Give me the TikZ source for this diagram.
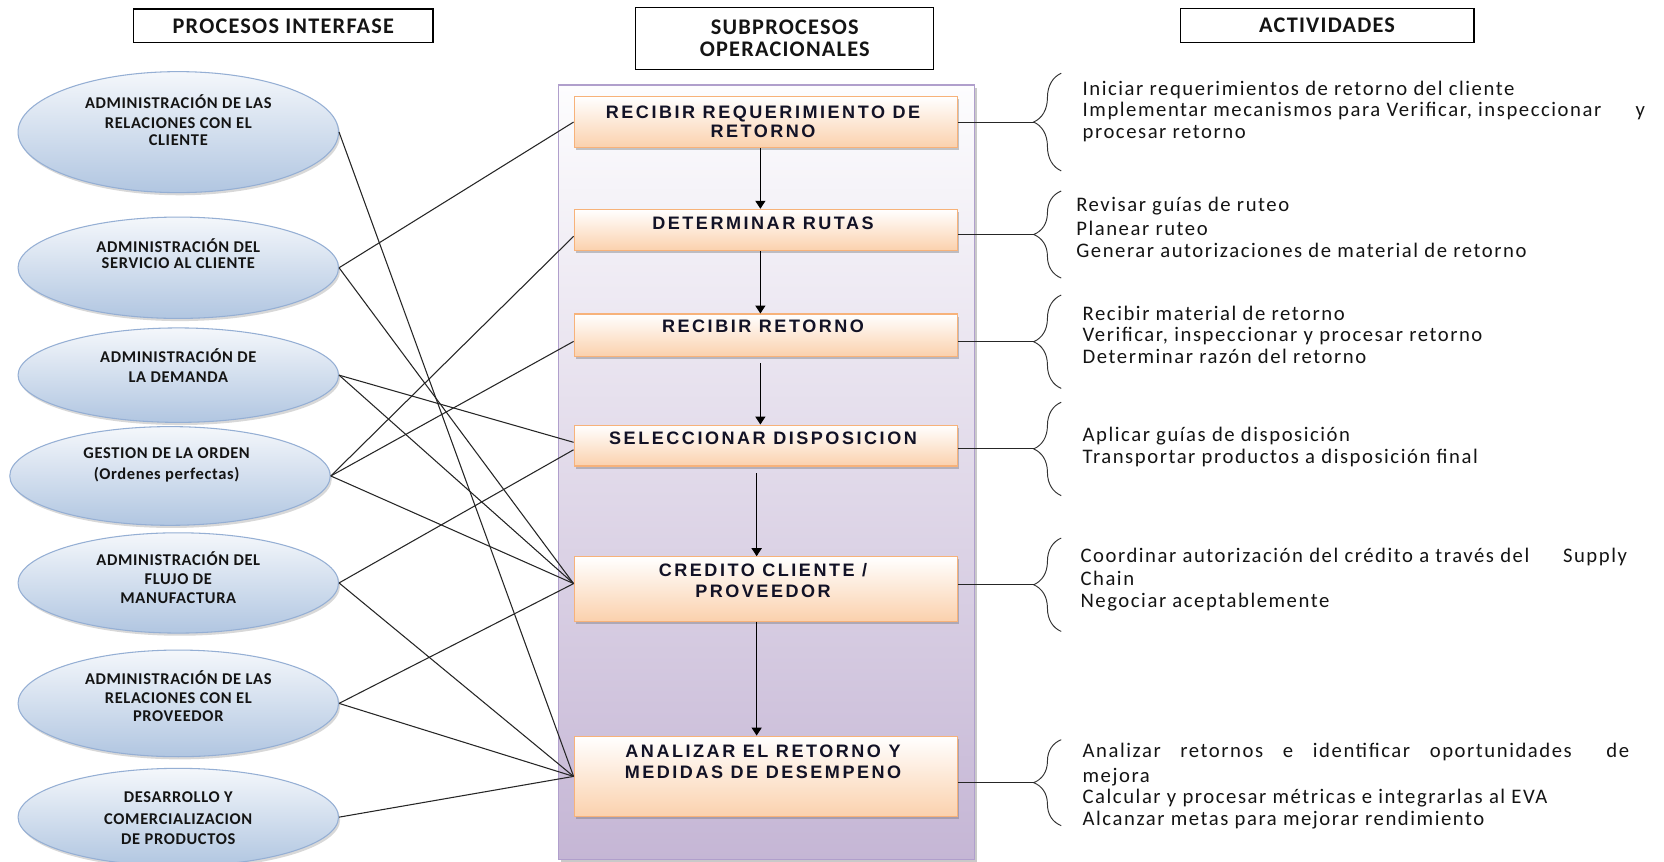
\documentclass[tikz,border=0pt]{standalone}
\usepackage{fontspec}
\setmainfont{Carlito}
\newfontfamily\hdrfont{Carlito}[LetterSpace=5.5]
\newfontfamily\ovfont{Carlito}[LetterSpace=4]
\newfontfamily\actfont{Carlito}[LetterSpace=7.5]
\newfontfamily\boxfont{Liberation Sans}[LetterSpace=14]
\usetikzlibrary{shapes.geometric,arrows.meta,decorations.pathreplacing,shadows}

\definecolor{ovtop}{HTML}{F4F7FB}
\definecolor{ovbot}{HTML}{B1C6E1}
\definecolor{ovline}{HTML}{95AFD4}
\definecolor{bxbot}{HTML}{FBD1AD}
\definecolor{bxline}{HTML}{F7B27A}
\definecolor{cttop}{HTML}{FDFDFE}
\definecolor{ctbot}{HTML}{C5B6D5}
\definecolor{ctline}{HTML}{B09FCC}
\definecolor{txtdark}{HTML}{141414}
\definecolor{boxtxt}{HTML}{121226}

\begin{document}
\begin{tikzpicture}[x=1pt,y=-1pt,
  hdr/.style={draw=black, line width=1.1pt, fill=white, inner sep=0pt,
    font=\hdrfont\fontsize{21}{21.4}\selectfont\bfseries, text=txtdark},
  cont/.style={rectangle, inner sep=0pt, draw=ctline, line width=1.2pt,
    top color=cttop, bottom color=ctbot,
    drop shadow={shadow xshift=2.5pt, shadow yshift=-2.5pt, opacity=0.35, fill=black!60}},
  proc/.style={ellipse, inner sep=0pt, draw=ovline, line width=1pt,
    top color=ovtop, bottom color=ovbot, minimum width=302,
    drop shadow={shadow xshift=1.5pt, shadow yshift=-2.5pt, opacity=0.25, fill=black!60}},
  ovtxt/.style={inner sep=0pt, anchor=base,
    font=\ovfont\fontsize{15.5}{17}\selectfont\bfseries, text=txtdark},
  sub/.style={rectangle, inner sep=0pt, draw=bxline, line width=1pt,
    top color=white, bottom color=bxbot, minimum width=361,
    drop shadow={shadow xshift=2pt, shadow yshift=-2.5pt, opacity=0.4, fill=black!55}},
  subtxt/.style={inner sep=0pt, anchor=base,
    font=\boxfont\fontsize{17}{18}\selectfont\bfseries, text=boxtxt},
  act/.style={inner sep=0pt, anchor=base west,
    font=\actfont\fontsize{19.5}{21}\selectfont, text=txtdark},
  conn/.style={draw=black!85, line width=1pt},
  arr/.style={draw=black, line width=1pt, -{Triangle[length=7.5pt,width=9.5pt]}},
  brc/.style={draw=black!80, line width=0.9pt, decorate,
    decoration={brace, amplitude=26pt}},
]
\useasboundingbox (0,0) rectangle (1568,812);
\fill[white] (0,0) rectangle (1568,812);

% column headings
\node[hdr, minimum width=282, minimum height=31.7] (h1) at (267,24.4) {PROCESOS INTERFASE};
\node[hdr, minimum width=281, minimum height=58.4, align=center] (h2) at (739.5,36.1) {SUBPROCESOS\\OPERACIONALES};
\node[hdr, minimum width=277, minimum height=32.3] (h3) at (1250.5,24) {ACTIVIDADES};

% frame around the operational subprocesses
\node[cont, minimum width=392, minimum height=729.7] (C) at (722.1,445) {};

% interface processes
\node[proc, minimum height=114]  (E1) at (168,124.5) {};
\node[proc, minimum height=95.5] (E2) at (168,252.3) {};
\node[proc, minimum height=89]   (E3) at (168,353.5) {};
\node[proc, minimum height=93]   (E4) at (160.2,448.5) {};
\node[proc, minimum height=94.5] (E5) at (168,549.3) {};
\node[proc, minimum height=100.5](E6) at (168,662.8) {};
\node[proc, minimum height=92]   (E7) at (168,770) {};

\node[ovtxt] (e1a) at (168,102.5) {ADMINISTRACIÓN DE LAS};
\node[ovtxt] (e1b) at (168,120.8) {RELACIONES CON EL};
\node[ovtxt] (e1c) at (168,137.1) {CLIENTE};
\node[ovtxt] (e2a) at (168,237.7) {ADMINISTRACIÓN DEL};
\node[ovtxt] (e2b) at (168,253.3) {SERVICIO AL CLIENTE};
\node[ovtxt] (e3a) at (168,341.3) {ADMINISTRACIÓN DE};
\node[ovtxt] (e3b) at (168,360.2) {LA DEMANDA};
\node[ovtxt] (e4a) at (157,432.4) {GESTION DE LA ORDEN};
\node[ovtxt] (e4b) at (157,451.4) {(Ordenes perfectas)};
\node[ovtxt] (e5a) at (168,532.9) {ADMINISTRACIÓN DEL};
\node[ovtxt] (e5b) at (168,551.1) {FLUJO DE};
\node[ovtxt] (e5c) at (168,569) {MANUFACTURA};
\node[ovtxt] (e6a) at (168,645.4) {ADMINISTRACIÓN DE LAS};
\node[ovtxt] (e6b) at (168,663.2) {RELACIONES CON EL};
\node[ovtxt] (e6c) at (168,679.9) {PROVEEDOR};
\node[ovtxt] (e7a) at (168,755.9) {DESARROLLO Y};
\node[ovtxt] (e7b) at (168,777) {COMERCIALIZACION};
\node[ovtxt] (e7c) at (168,795.8) {DE PRODUCTOS};

% operational subprocesses
\node[sub, minimum height=47.7] (B1) at (721.5,115) {};
\node[sub, minimum height=39]   (B2) at (721.5,216.7) {};
\node[sub, minimum height=39.6] (B3) at (721.5,315.7) {};
\node[sub, minimum height=38.6] (B4) at (721.5,419.8) {};
\node[sub, minimum height=60.6] (B5) at (721.5,554.9) {};
\node[sub, minimum height=76]   (B6) at (721.5,731.6) {};

% links between interface processes and subprocesses
\draw[conn] (E1.east) -- (B6.west);
\draw[conn] (E2.east) -- (B1.west);
\draw[conn] (E2.east) -- ([yshift=5pt]B5.west);
\draw[conn] (E3.east) -- ([yshift=3pt]B4.west);
\draw[conn] (E3.east) -- ([yshift=5pt]B5.west);
\draw[conn] (E4.east) -- ([yshift=-6pt]B2.west);
\draw[conn] (E4.east) -- ([yshift=-6pt]B3.west);
\draw[conn] (E4.east) -- ([yshift=5pt]B5.west);
\draw[conn] (E5.east) -- ([yshift=-4pt]B4.west);
\draw[conn] (E5.east) -- (B6.west);
\draw[conn] (E6.east) -- ([yshift=5pt]B5.west);
\draw[conn] (E6.east) -- (B6.west);
\draw[conn] (E7.east) -- (B6.west);

\node[subtxt] (b1a) at (719,111.2) {RECIBIR REQUERIMIENTO DE};
\node[subtxt] (b1b) at (719,129.1) {RETORNO};
\node[subtxt] (b2a) at (719,216.5) {DETERMINAR RUTAS};
\node[subtxt] (b3a) at (719,312.9) {RECIBIR RETORNO};
\node[subtxt] (b4a) at (719,419.1) {SELECCIONAR DISPOSICION};
\node[subtxt] (b5a) at (719,543.1) {CREDITO CLIENTE /};
\node[subtxt] (b5b) at (719,562.6) {PROVEEDOR};
\node[subtxt] (b6a) at (719,713.4) {ANALIZAR EL RETORNO Y};
\node[subtxt] (b6b) at (719,733.2) {MEDIDAS DE DESEMPENO};

% sequence of subprocesses
\coordinate (ax1) at (716.5,0);
\coordinate (ax2) at (713,0);
\coordinate (a34) at (716.5,342.4);
\coordinate (a45) at (713,446);
\draw[arr] (B1.south -| ax1) -- (B2.north -| ax1);
\draw[arr] (B2.south -| ax1) -- (B3.north -| ax1);
\draw[arr] (a34) -- (B4.north -| a34);
\draw[arr] (a45) -- (B5.north -| a45);
\draw[arr] (B5.south -| ax2) -- (B6.north -| ax2);

% braces grouping the activities
\coordinate (k1) at (974,115);
\coordinate (k2) at (974,221);
\coordinate (k3) at (974,322);
\coordinate (k4) at (974,423);
\coordinate (k5) at (974,551);
\coordinate (k6) at (974,737.5);
\draw[brc] (1000,161) -- (1000,69);
\draw[brc] (1000,262) -- (1000,180);
\draw[brc] (1000,366) -- (1000,278);
\draw[brc] (1000,467) -- (1000,379);
\draw[brc] (1000,595) -- (1000,507);
\draw[brc] (1000,778) -- (1000,697);
\draw[conn] (B1.east |- k1) -- (k1);
\draw[conn] (B2.east |- k2) -- (k2);
\draw[conn] (B3.east |- k3) -- (k3);
\draw[conn] (B4.east |- k4) -- (k4);
\draw[conn] (B5.east |- k5) -- (k5);
\draw[conn] (B6.east |- k6) -- (k6);

% activities
\node[act] (r1a) at (1020,89.8)  {Iniciar requerimientos de retorno del cliente};
\node[act] (r1b) at (1020,110.2) {\makebox[530pt][l]{Implementar mecanismos para Verificar, inspeccionar\hfill y}};
\node[act] (r1c) at (1020,130.6) {procesar retorno};
\node[act] (r2a) at (1014,199.7) {Revisar guías de ruteo};
\node[act] (r2b) at (1014,221.7) {Planear ruteo};
\node[act] (r2c) at (1014,242.2) {Generar autorizaciones de material de retorno};
\node[act] (r3a) at (1020,301.8) {Recibir material de retorno};
\node[act] (r3b) at (1020,322.2) {Verificar, inspeccionar y procesar retorno};
\node[act] (r3c) at (1020,342.7) {Determinar razón del retorno};
\node[act] (r4a) at (1020,415.9) {Aplicar guías de disposición};
\node[act] (r4b) at (1020,436.9) {Transportar productos a disposición final};
\node[act] (r5a) at (1018,530.2) {\makebox[515pt][l]{Coordinar autorización del crédito a través del\hfill Supply}};
\node[act] (r5b) at (1018,551.6) {Chain};
\node[act] (r5c) at (1018,572)   {Negociar aceptablemente};
\node[act] (r6a) at (1020,714)   {\makebox[515pt][s]{Analizar retornos e identificar oportunidades\hspace{14pt} de}};
\node[act] (r6b) at (1020,736.9) {mejora};
\node[act] (r6c) at (1020,757.3) {Calcular y procesar métricas e integrarlas al EVA};
\node[act] (r6d) at (1020,778.3) {Alcanzar metas para mejorar rendimiento};
\end{tikzpicture}
\end{document}
